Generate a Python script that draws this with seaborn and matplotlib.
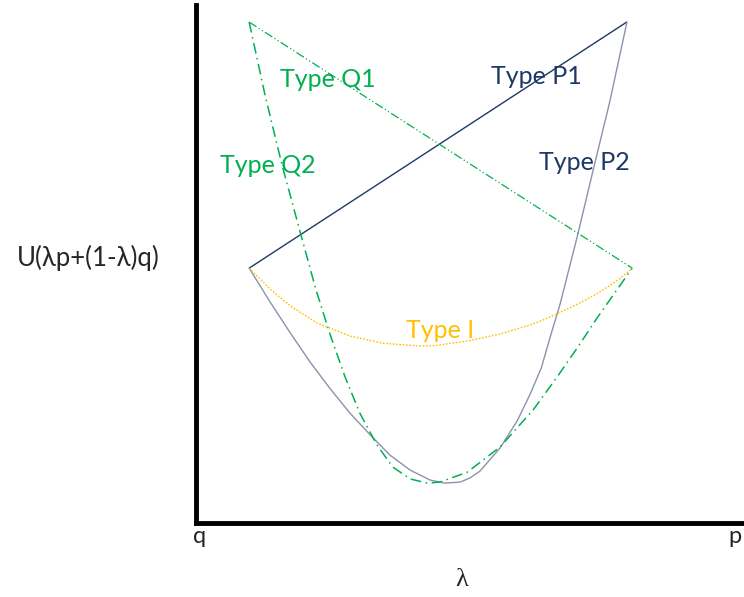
import matplotlib
matplotlib.use("Agg")
import matplotlib.pyplot as plt
import seaborn as sns

# lambda on x (0 = q, 1 = p), utility on y
p1_x = [0.097, 0.786]
p1_y = [0.492, 0.967]

q1_x = [0.097, 0.796]
q1_y = [0.967, 0.492]

p2_x = [0.097, 0.135, 0.172, 0.208, 0.245, 0.281, 0.318, 0.354, 0.391, 0.427,
        0.454, 0.482, 0.500, 0.518, 0.555, 0.586, 0.609, 0.630, 0.648, 0.664,
        0.695, 0.724, 0.755, 0.786]
p2_y = [0.492, 0.427, 0.367, 0.311, 0.259, 0.212, 0.170, 0.131, 0.102, 0.083,
        0.077, 0.079, 0.087, 0.100, 0.145, 0.197, 0.247, 0.299, 0.365, 0.421,
        0.550, 0.678, 0.813, 0.965]

q2_x = [0.097, 0.126, 0.157, 0.190, 0.219, 0.245, 0.272, 0.299, 0.330, 0.359,
        0.391, 0.422, 0.445, 0.495, 0.555, 0.615, 0.659, 0.697, 0.732, 0.774,
        0.796]
q2_y = [0.967, 0.826, 0.691, 0.562, 0.450, 0.363, 0.282, 0.212, 0.151, 0.108,
        0.085, 0.077, 0.079, 0.098, 0.147, 0.218, 0.282, 0.340, 0.396, 0.459,
        0.492]

i_x = [0.097, 0.135, 0.172, 0.221, 0.281, 0.341, 0.403, 0.432, 0.494, 0.555,
       0.615, 0.651, 0.697, 0.737, 0.770, 0.796]
i_y = [0.492, 0.452, 0.419, 0.386, 0.361, 0.347, 0.342, 0.342, 0.351, 0.365,
       0.384, 0.400, 0.423, 0.446, 0.469, 0.492]

navy = "#1F3864"
slate = "#8A93AC"
green = "#00B050"
gold = "#FFC000"

sns.set_style("white")
plt.rcParams["font.family"] = ["Lato", "Liberation Serif", "DejaVu Sans"]

fig = plt.figure(figsize=(7.44, 5.97), dpi=100)
ax = fig.add_axes([196 / 744, 74 / 597, 548 / 744, 518 / 597])

sns.lineplot(x=p1_x, y=p1_y, color=navy, linewidth=1.0, sort=False, ax=ax)
sns.lineplot(x=p2_x, y=p2_y, color=slate, linewidth=1.0, sort=False, ax=ax)
sns.lineplot(x=q1_x, y=q1_y, color=green, linewidth=0.9, sort=False, ax=ax,
             linestyle=(0, (7, 2, 1, 2, 1, 2)))
sns.lineplot(x=q2_x, y=q2_y, color=green, linewidth=1.1, sort=False, ax=ax,
             linestyle=(0, (7, 3, 1, 3)))
sns.lineplot(x=i_x, y=i_y, color=gold, linewidth=1.0, sort=False, ax=ax,
             linestyle=(0, (1.2, 1.2)))

ax.set_xlim(0, 1)
ax.set_ylim(0, 1)

# curve labels
fs = 18
ax.text(0.241, 0.857, "Type Q1", color=green, fontsize=fs, ha="center", va="center")
ax.text(0.131, 0.691, "Type Q2", color=green, fontsize=fs, ha="center", va="center")
ax.text(0.622, 0.862, "Type P1", color=navy, fontsize=fs, ha="center", va="center")
ax.text(0.708, 0.696, "Type P2", color=navy, fontsize=fs, ha="center", va="center")
ax.text(0.445, 0.372, "Type I", color=gold, fontsize=fs, ha="center", va="center")

ax.set_xticks([0.007, 0.984])
ax.set_xticklabels(["q", "p"], fontsize=17)
ax.set_yticks([])
ax.tick_params(axis="x", length=0, pad=2)

ax.set_xlabel("λ", fontsize=19, family="Liberation Serif", va="center")
ax.xaxis.set_label_coords(0.485, -0.11)
ax.set_ylabel("U(λp+(1-λ)q)", fontsize=18.5, rotation=0, ha="center", va="center")
ax.yaxis.set_label_coords(-0.197, 0.512)

sns.despine(ax=ax)
for side in ["left", "bottom"]:
    ax.spines[side].set_linewidth(3.5)
    ax.spines[side].set_color("black")

fig.savefig("out.png", dpi=100)
